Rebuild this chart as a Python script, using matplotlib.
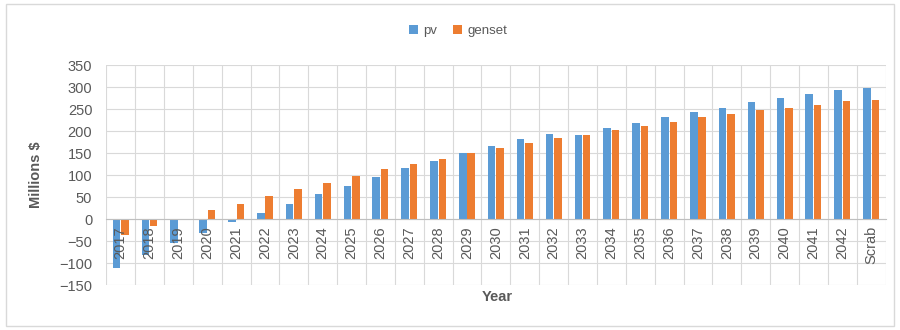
import numpy as np
import matplotlib
matplotlib.use('Agg')
import matplotlib.pyplot as plt
from matplotlib.patches import Rectangle

plt.rcParams['font.family'] = ['Liberation Sans', 'DejaVu Sans']

categories = ['2017', '2018', '2019', '2020', '2021', '2022', '2023', '2024',
              '2025', '2026', '2027', '2028', '2029', '2030', '2031', '2032',
              '2033', '2034', '2035', '2036', '2037', '2038', '2039', '2040',
              '2041', '2042', 'Scrab']
pv = [-110, -82, -55, -31, -6, 13, 35, 56, 76, 96, 115, 132, 150, 165, 181,
      194, 192, 206, 218, 231, 243, 253, 265, 275, 285, 294, 298]
genset = [-36, -16, -2, 20, 35, 52, 68, 82, 98, 113, 126, 137, 150, 161, 172,
          185, 192, 203, 211, 221, 231, 239, 247, 253, 260, 268, 271]

pv_color = '#5B9BD5'
genset_color = '#ED7D31'
text_color = '#595959'

fig = plt.figure(figsize=(9, 3.3), dpi=100)
fig.patches.append(Rectangle((0.007, 0.012), 0.986, 0.976, transform=fig.transFigure,
                             fill=False, edgecolor='#D9D9D9', linewidth=1))

ax = fig.add_axes([0.118, 0.136, 0.866, 0.667])
x = np.arange(len(categories))
w = 0.26
ax.bar(x - w / 2 - 0.015, pv, w, color=pv_color, label='pv', zorder=3)
ax.bar(x + w / 2 + 0.015, genset, w, color=genset_color, label='genset', zorder=3)

# category axis sits on the zero line, like the excel chart
for side in ['top', 'right', 'left']:
    ax.spines[side].set_visible(False)
ax.spines['bottom'].set_position(('data', 0))
ax.spines['bottom'].set_color('#BFBFBF')
ax.spines['bottom'].set_zorder(4)

ax.set_xlim(-0.5, len(categories) - 0.5)
ax.set_ylim(-150, 350)
ax.set_yticks(np.arange(-150, 351, 50))
ax.set_xticks(x)
ax.set_xticks(np.arange(-0.5, len(categories), 1), minor=True)

ax.grid(axis='y', color='#D9D9D9', linewidth=0.8, zorder=0)
ax.grid(axis='x', which='minor', color='#D9D9D9', linewidth=0.8, zorder=0)
ax.grid(axis='x', which='major', visible=False)

ax.tick_params(axis='x', which='both', length=0, labelbottom=False)
ax.tick_params(axis='y', length=0, pad=10, labelsize=10.5, labelcolor=text_color)

# year labels drawn on top of the negative bars
for xi, lab in zip(x, categories):
    ax.annotate(lab, (xi, 0), xytext=(0, -5), textcoords='offset points',
                rotation=90, ha='center', va='top', fontsize=10.5,
                color=text_color, zorder=6)

ax.set_ylabel('Millions $', fontsize=10.5, fontweight='bold', color=text_color, labelpad=12)
fig.text(0.552, 0.10, 'Year', ha='center', va='center', fontsize=10.5,
         fontweight='bold', color=text_color)

fig.legend(loc='center', bbox_to_anchor=(0.509, 0.905), ncol=2, frameon=False,
           fontsize=9.5, handlelength=0.7, handleheight=0.7, handletextpad=0.4,
           columnspacing=1.2, labelcolor=text_color)

fig.savefig('out.png', dpi=100)
